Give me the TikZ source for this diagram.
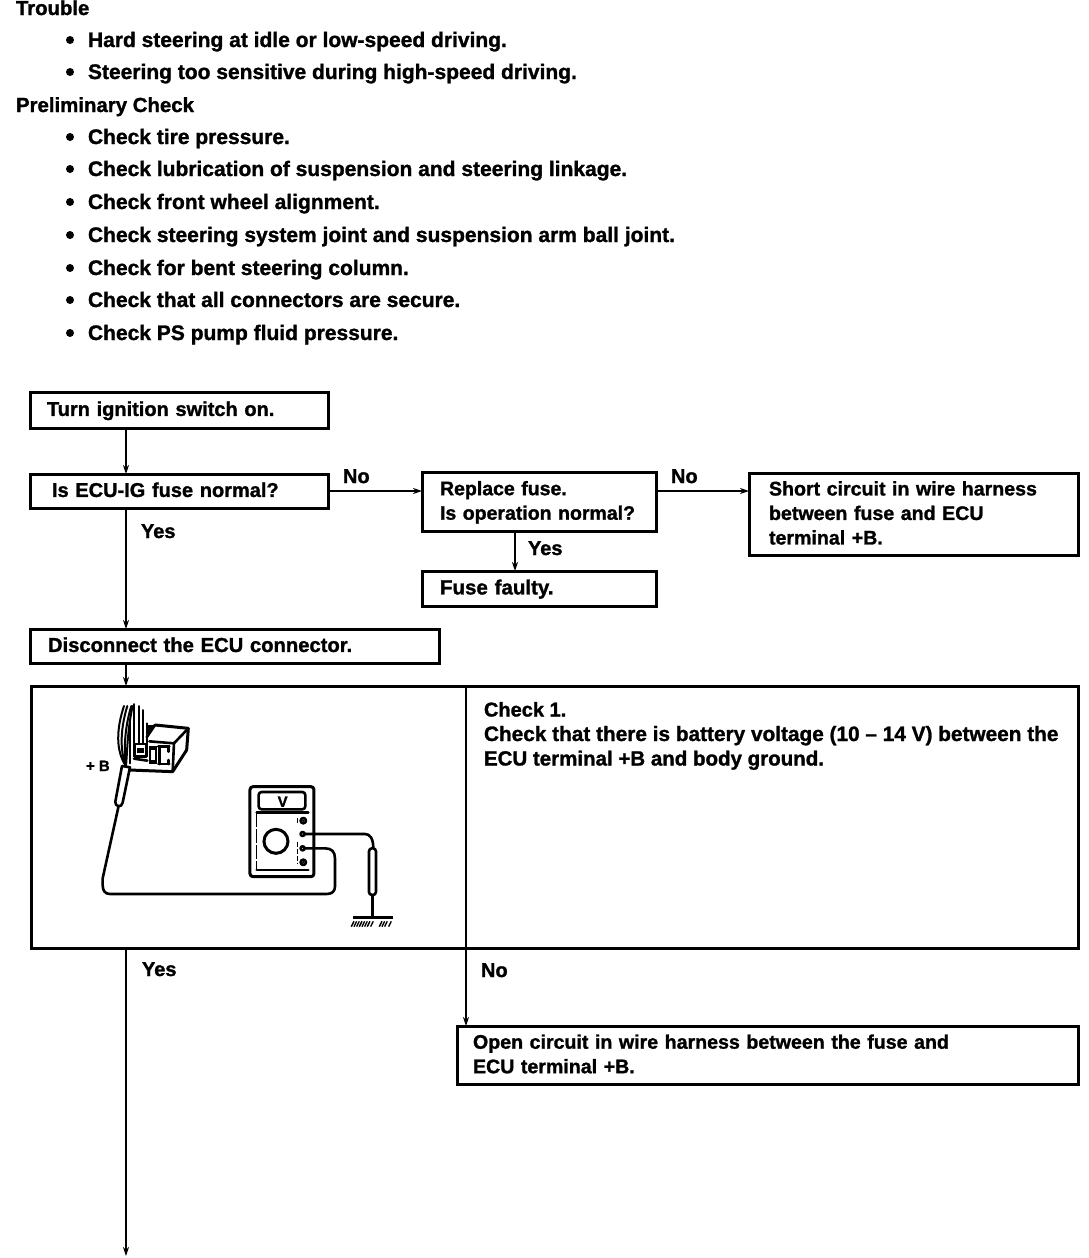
\documentclass[tikz,border=0pt]{standalone}
\usepackage{fontspec}
\setmainfont[BoldFeatures={FakeBold=1.3}]{Liberation Sans}
\usetikzlibrary{arrows.meta}
\newcommand{\st}{\rule[-4.2pt]{0pt}{20.3pt}}
\tikzset{
  x=1pt,y=-1pt,
  every node/.style={font=\bfseries\fontsize{20}{24.5}\selectfont,text=black},
  flow/.style={draw=black,line width=3pt,anchor=north west,outer sep=0pt,align=left,inner ysep=0pt,rectangle},
  txt/.style={anchor=base west,inner sep=0pt,outer sep=0pt},
  conn/.style={draw=black,line width=2.4pt},
  flowarrow/.style={conn,-{Stealth[length=9pt,width=6pt]}},
  sketch/.style={draw=black,line width=2pt,line cap=round,line join=round},
  heavy/.style={draw=black,line width=2.6pt,line cap=round,line join=round},
}
\newcommand{\bul}[3]{\node[circle,fill=black,inner sep=0pt,minimum size=8pt] (b#1) at (70,#2-7) {};
  \node[txt,font=\bfseries\fontsize{21}{24.5}\selectfont] (t#1) at (88,#2) {#3};}
\begin{document}
\begin{tikzpicture}
\useasboundingbox (0,0) rectangle (1088,1258);
% heading text
\node[txt,font=\bfseries\fontsize{20.3}{24.5}\selectfont] (trouble) at (16,15) {Trouble};
\bul{a}{47}{Hard steering at idle or low-speed driving.}
\bul{b}{79}{Steering too sensitive during high-speed driving.}
\node[txt,font=\bfseries\fontsize{20.4}{24.5}\selectfont] (prelim) at (16,112) {Preliminary Check};
\bul{c}{144}{Check tire pressure.}
\bul{d}{176}{Check lubrication of suspension and steering linkage.}
\bul{e}{209}{Check front wheel alignment.}
\bul{f}{242}{Check steering system joint and suspension arm ball joint.}
\bul{g}{275}{Check for bent steering column.}
\bul{h}{307}{Check that all connectors are secure.}
\bul{i}{340}{Check PS pump fluid pressure.}
% boxes
\node[flow,inner xsep=17pt,minimum height=36pt,text width=264pt] (turn) at (30,392) {\st Turn ignition switch on.};
\node[flow,inner xsep=22pt,minimum height=34pt,text width=254pt] (ecu) at (30,474) {\st Is ECU-IG fuse normal?};
\node[flow,inner xsep=18pt,minimum height=59pt,text width=198pt,font=\bfseries\fontsize{19.5}{24.5}\selectfont] (replace) at (422,472) {\st Replace fuse.\\\st \mbox{Is operation normal?}};
\node[flow,inner xsep=20pt,minimum height=82pt,text width=289pt,font=\bfseries\fontsize{19.6}{24.5}\selectfont] (short) at (749,473) {\st Short circuit in wire harness\\\st between fuse and ECU\\\st terminal +B.};
\node[flow,inner xsep=18pt,minimum height=35pt,text width=198pt,font=\bfseries\fontsize{20.5}{24.5}\selectfont] (faulty) at (422,571) {\st Fuse faulty.};
\node[flow,inner xsep=18pt,minimum height=34pt,text width=373pt,font=\bfseries\fontsize{20.2}{24.5}\selectfont] (disc) at (30,629) {\st Disconnect the ECU connector.};
\node[flow,minimum width=1047pt,minimum height=262pt,inner xsep=0pt] (check) at (31,686) {};
\node[flow,inner xsep=16pt,minimum height=58pt,text width=589pt,font=\bfseries\fontsize{19.6}{24.5}\selectfont] (open) at (457,1026) {\st Open circuit in wire harness between the fuse and\\\st ECU terminal +B.};
\coordinate (stem) at (126,0);
\coordinate (split) at (466,0);
\coordinate (down) at (515,0);
\coordinate (finish) at (126,1256);
\draw[conn] (split |- check.north) -- (split |- check.south);
\node[txt,align=left,anchor=north west] (checktxt) at (484,702) {Check 1.\\{\fontsize{20.8}{24.5}\selectfont Check that there is battery voltage (10 -- 14 V) between the}\\{\fontsize{20.5}{24.5}\selectfont ECU terminal +B and body ground.}};
% connectors
\draw[flowarrow] (turn.south -| stem) -- (ecu.north -| stem);
\draw[flowarrow] (ecu.south -| stem) -- (disc.north -| stem);
\draw[flowarrow] (disc.south -| stem) -- (check.north -| stem);
\draw[flowarrow] (check.south -| stem) -- (finish);
\draw[flowarrow] (check.south -| split) -- (open.north -| split);
\draw[flowarrow] (ecu.east) -- (replace.west |- ecu.east);
\draw[flowarrow] (replace.east |- ecu.east) -- (short.west |- ecu.east);
\draw[flowarrow] (replace.south -| down) -- (faulty.north -| down);
% labels
\node[txt] (no1) at (343,483) {No};
\node[txt] (no2) at (671,483) {No};
\node[txt] (yes1) at (141,538) {Yes};
\node[txt] (yes2) at (528,555) {Yes};
\node[txt] (yes3) at (142,976) {Yes};
\node[txt] (no3) at (481,977) {No};
% illustration
\begin{scope}[shift={(30,680)},x=0.3333pt,y=-0.3333pt]
  % meter
  \draw[heavy,line width=3pt,rounded corners=3pt] (660,320) rectangle (852,590);
  \draw[heavy,rounded corners=3pt] (686,336) rectangle (826,388);
  \node[font=\bfseries\fontsize{15}{15}\selectfont] (vlabel) at (758,365) {V};
  \draw[heavy] (680,398) -- (835,398);
  \draw[heavy] (680,570) -- (835,570);
  \draw[draw=black,line width=1.6pt,dash pattern=on 14pt off 2pt] (680,398) -- (680,570);
  \draw[draw=black,line width=1.6pt,dash pattern=on 5pt off 2pt] (803,415) -- (803,435) (803,485) -- (803,550);
  \draw[draw=black,line width=3pt] (738,484) circle (36);
  \draw[heavy,fill=white] (820,422) circle (8);
  \draw[heavy,fill=white] (820,547) circle (8);
  \fill (820,422) circle (4); \fill (820,547) circle (4);
  \draw[heavy,fill=white] (818,462) circle (6);
  \draw[heavy,fill=white] (818,505) circle (6);
  % wires
  \draw[heavy] (824,462) -- (1005,462) .. controls (1020,462) and (1030,475) .. (1030,505);
  \draw[heavy,fill=white,rounded corners=3pt] (1017,505) rectangle (1038,645);
  \draw[heavy] (1028,645) -- (1028,712);
  \draw[draw=black,line width=3pt] (968,714) -- (1090,714);
  \foreach \hx in {972,980,988,996,1004,1012,1020,1030,1056,1064,1072,1084}{\draw[draw=black,line width=1.4pt] (\hx,724) -- (\hx-8,740);}
  \draw[heavy] (824,505) -- (885,505) .. controls (905,505) and (915,515) .. (915,535) -- (915,620)
     .. controls (915,635) and (905,642) .. (890,642) -- (240,642) .. controls (225,642) and (218,632) .. (218,615) -- (218,595) -- (265,382);
  % probe
  \draw[heavy,fill=white] (276,258) -- (256,365) .. controls (254,380) and (275,385) .. (278,368) -- (300,262) -- cycle;
  % ECU box
  \fill (350,135) -- (378,135) -- (350,178) -- cycle;
  \draw[heavy,line width=3pt] (375,135) -- (475,145) -- (470,210) -- (428,275) -- (298,270);
  \draw[heavy] (475,145) -- (432,190) -- (358,184);
  \draw[heavy] (432,190) -- (428,275);
  \draw[heavy] (375,135) -- (350,172);
  \draw[heavy] (385,200) -- (418,200) (385,252) -- (418,252) (388,200) -- (388,252) (415,200)--(415,215) (415,240)--(415,252);
  \fill (358,198) rectangle (380,252);
  \fill[white] (364,210) rectangle (374,240);
  \draw[heavy] (314,192) rectangle (350,230);
  \fill (322,205) rectangle (342,220);
  \draw[heavy] (312,236) -- (352,242);
  % harness
  \foreach \ax/\tx in {258/282,270/292,282/304,292/308}{
    \draw[sketch] (288,258) .. controls (\ax,215) and (\ax,150) .. (\tx,78);
  }
  \foreach \bx/\ty in {312/72,326/78,340/90}{
    \draw[sketch] (\bx,190) -- (\bx,\ty);
  }
  \draw[sketch] (300,250) -- (300,120);
  \draw[sketch] (352,190) -- (352,130);
\end{scope}
\node[txt,font=\bfseries\fontsize{15}{15}\selectfont] (plusb) at (86,771) {+ B};
\end{tikzpicture}
\end{document}
